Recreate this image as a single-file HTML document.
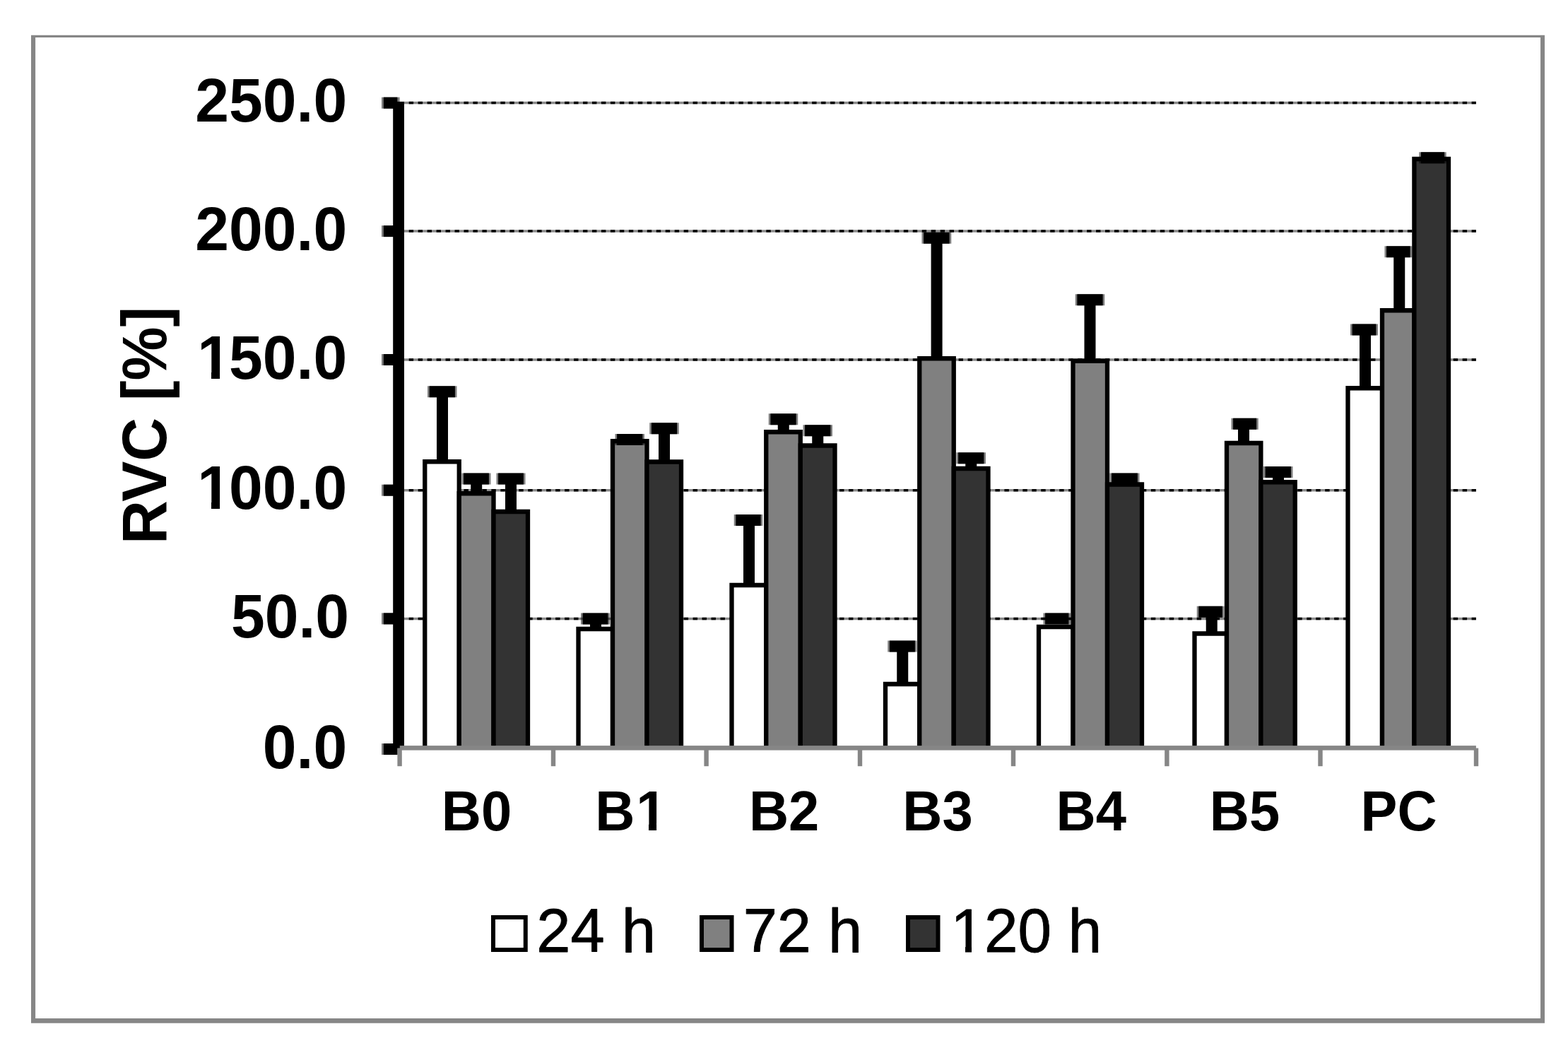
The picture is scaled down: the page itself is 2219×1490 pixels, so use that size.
<!DOCTYPE html>
<html lang="en">
<head>
<meta charset="utf-8">
<title>RVC [%] chart</title>
<style>
html,body{margin:0;padding:0;background:#fff;}
body{width:2219px;height:1490px;overflow:hidden;font-family:"Liberation Sans", Arial, Helvetica, sans-serif;}
svg{display:block;}
text{font-family:"Liberation Sans", Arial, Helvetica, sans-serif;fill:#000;}
.b{font-weight:bold;}
</style>
</head>
<body>
<svg width="2219" height="1490" viewBox="0 0 2219 1490">
<rect x="0" y="0" width="2219" height="1490" fill="#fff"/>

<!-- chart frame -->
<path fill="#868686" fill-rule="evenodd" d="M44 49.8H2186V1447.75H44Z M50.1 53V1440.9H2180.05V53Z"/>
<!-- horizontal gridlines -->
<g stroke="#8a8a8a" stroke-width="3.5" fill="none">
<line x1="572" y1="145.6" x2="2088.9" y2="145.6"/>
<line x1="572" y1="327.1" x2="2088.9" y2="327.1"/>
<line x1="572" y1="509" x2="2088.9" y2="509"/>
<line x1="572" y1="693.7" x2="2088.9" y2="693.7"/>
<line x1="572" y1="875.4" x2="2088.9" y2="875.4"/>
</g>
<g stroke="#000" stroke-width="3.5" stroke-dasharray="6.4 6.565" fill="none">
<line x1="578.7" y1="145.6" x2="2088.9" y2="145.6"/>
<line x1="578.7" y1="327.1" x2="2088.9" y2="327.1"/>
<line x1="578.7" y1="509" x2="2088.9" y2="509"/>
<line x1="578.7" y1="693.7" x2="2088.9" y2="693.7"/>
<line x1="578.7" y1="875.4" x2="2088.9" y2="875.4"/>
</g>
<!-- bars -->
<g stroke="#000" stroke-width="6.3" stroke-linejoin="miter">
<path d="M601.25 1058.4V653.25H649.75V1058.4" fill="#ffffff"/>
<path d="M649.75 1058.4V698.25H698.5V1058.4" fill="#808080"/>
<path d="M698.5 1058.4V724H747V1058.4" fill="#333333"/>
<path d="M818.5 1058.4V890H867V1058.4" fill="#ffffff"/>
<path d="M867 1058.4V624.25H915.5V1058.4" fill="#808080"/>
<path d="M915.5 1058.4V653.5H964V1058.4" fill="#333333"/>
<path d="M1035.5 1058.4V828H1084.25V1058.4" fill="#ffffff"/>
<path d="M1084.25 1058.4V611.25H1132.75V1058.4" fill="#808080"/>
<path d="M1132.75 1058.4V630.5H1181.5V1058.4" fill="#333333"/>
<path d="M1253 1058.4V968H1301.25V1058.4" fill="#ffffff"/>
<path d="M1301.25 1058.4V507.25H1349.75V1058.4" fill="#808080"/>
<path d="M1349.75 1058.4V663H1398.5V1058.4" fill="#333333"/>
<path d="M1470 1058.4V887H1518.5V1058.4" fill="#ffffff"/>
<path d="M1518.5 1058.4V510.75H1567V1058.4" fill="#808080"/>
<path d="M1567 1058.4V685.5H1616V1058.4" fill="#333333"/>
<path d="M1690.5 1058.4V896.5H1736V1058.4" fill="#ffffff"/>
<path d="M1736 1058.4V627H1784.4V1058.4" fill="#808080"/>
<path d="M1784.4 1058.4V682.25H1832.75V1058.4" fill="#333333"/>
<path d="M1907.5 1058.4V549.25H1956V1058.4" fill="#ffffff"/>
<path d="M1956 1058.4V439.25H2001.4V1058.4" fill="#808080"/>
<path d="M2001.4 1058.4V225H2050V1058.4" fill="#333333"/>
</g>
<!-- error bars -->
<g fill="#000" fill-opacity="0.5">
<rect x="605" y="546.25" width="41.50" height="16"/>
<rect x="653.5" y="669.5" width="41.00" height="16"/>
<rect x="702.5" y="669.5" width="41.00" height="16"/>
<rect x="822" y="867.5" width="41.00" height="16"/>
<rect x="870.5" y="614" width="41.50" height="16"/>
<rect x="919.25" y="598.25" width="41.50" height="16"/>
<rect x="1038.75" y="728" width="40.50" height="16"/>
<rect x="1087.75" y="585.25" width="41.50" height="16"/>
<rect x="1136.5" y="601.25" width="41.50" height="16"/>
<rect x="1256.25" y="906.5" width="41.25" height="16"/>
<rect x="1304.5" y="328.75" width="41.75" height="16"/>
<rect x="1353.5" y="640.25" width="41.50" height="16"/>
<rect x="1476.5" y="867.5" width="38.50" height="16"/>
<rect x="1521.75" y="416.25" width="41.50" height="16"/>
<rect x="1570.5" y="669.5" width="42.00" height="16"/>
<rect x="1693.75" y="857.75" width="38.75" height="16"/>
<rect x="1742.5" y="591.75" width="38.25" height="16"/>
<rect x="1788" y="660" width="41.50" height="16"/>
<rect x="1911" y="458.5" width="39.00" height="16"/>
<rect x="1959.5" y="348.25" width="38.75" height="16"/>
<rect x="2008.25" y="215.25" width="38.50" height="16"/>
</g>
<g fill="#000">
<rect x="607.60" y="546.25" width="36.30" height="16"/>
<rect x="618" y="554.25" width="16" height="99.00"/>
<rect x="656.10" y="669.5" width="35.80" height="16"/>
<rect x="666.2" y="677.5" width="16" height="20.75"/>
<rect x="705.10" y="669.5" width="35.80" height="16"/>
<rect x="715" y="677.5" width="16" height="46.50"/>
<rect x="824.60" y="867.5" width="35.80" height="16"/>
<rect x="835" y="875.5" width="16" height="14.50"/>
<rect x="873.10" y="614" width="36.30" height="16"/>
<rect x="921.85" y="598.25" width="36.30" height="16"/>
<rect x="932" y="606.25" width="16" height="47.25"/>
<rect x="1041.35" y="728" width="35.30" height="16"/>
<rect x="1052" y="736" width="16" height="92.00"/>
<rect x="1090.35" y="585.25" width="36.30" height="16"/>
<rect x="1100.75" y="593.25" width="16" height="18.00"/>
<rect x="1139.10" y="601.25" width="36.30" height="16"/>
<rect x="1149.25" y="609.25" width="16" height="21.25"/>
<rect x="1258.85" y="906.5" width="36.05" height="16"/>
<rect x="1269.25" y="914.5" width="16" height="53.50"/>
<rect x="1307.10" y="328.75" width="36.55" height="16"/>
<rect x="1317.6" y="336.75" width="16" height="170.50"/>
<rect x="1356.10" y="640.25" width="36.30" height="16"/>
<rect x="1366.25" y="648.25" width="16" height="14.75"/>
<rect x="1479.10" y="867.5" width="33.30" height="16"/>
<rect x="1524.35" y="416.25" width="36.30" height="16"/>
<rect x="1534.5" y="424.25" width="16" height="86.50"/>
<rect x="1573.10" y="669.5" width="36.80" height="16"/>
<rect x="1696.35" y="857.75" width="33.55" height="16"/>
<rect x="1706.75" y="865.75" width="16" height="30.75"/>
<rect x="1745.10" y="591.75" width="33.05" height="16"/>
<rect x="1752" y="599.75" width="16" height="27.25"/>
<rect x="1790.60" y="660" width="36.30" height="16"/>
<rect x="1801" y="668" width="16" height="14.25"/>
<rect x="1913.60" y="458.5" width="33.80" height="16"/>
<rect x="1924" y="466.5" width="16" height="82.75"/>
<rect x="1962.10" y="348.25" width="33.55" height="16"/>
<rect x="1972.25" y="356.25" width="16" height="83.00"/>
<rect x="2010.85" y="215.25" width="33.30" height="16"/>
</g>
<!-- value axis -->
<g fill="#000" fill-opacity="0.5">
<rect x="540" y="137.6" width="25.6" height="16"/>
<rect x="540" y="319.1" width="25.6" height="16"/>
<rect x="540" y="501" width="25.6" height="16"/>
<rect x="540" y="685.7" width="25.6" height="16"/>
<rect x="540" y="867.4" width="25.6" height="16"/>
<rect x="540" y="1052" width="25.6" height="16"/>
</g>
<g fill="#000">
<rect x="556.2" y="143.8" width="15.8" height="914.8"/>
<rect x="542.8" y="137.6" width="19.6" height="16"/>
<rect x="542.8" y="319.1" width="19.6" height="16"/>
<rect x="542.8" y="501" width="19.6" height="16"/>
<rect x="542.8" y="685.7" width="19.6" height="16"/>
<rect x="542.8" y="867.4" width="19.6" height="16"/>
<rect x="542.8" y="1052" width="19.6" height="16"/>
<rect x="556.2" y="1052" width="9.6" height="6.6"/>
</g>
<!-- category axis -->
<g fill="#868686">
<rect x="565.8" y="1055.1" width="1523.1" height="6.5"/>
<rect x="562.4" y="1058.6" width="6.4" height="25.6"/>
<rect x="779.8" y="1058.6" width="6.4" height="25.6"/>
<rect x="996.4" y="1058.6" width="6.4" height="25.6"/>
<rect x="1213.8" y="1058.6" width="6.4" height="25.6"/>
<rect x="1430.8" y="1058.6" width="6.4" height="25.6"/>
<rect x="1648.2" y="1058.6" width="6.4" height="25.6"/>
<rect x="1865.3" y="1058.6" width="6.4" height="25.6"/>
<rect x="2085.8" y="1058.6" width="6.4" height="25.6"/>
</g>
<!-- value axis labels -->
<text class="b" font-size="87" text-anchor="end" transform="translate(491.20 172.20) scale(0.9870 1)">250.0</text>
<text class="b" font-size="87" text-anchor="end" transform="translate(491.20 353.70) scale(0.9870 1)">200.0</text>
<text class="b" font-size="87" text-anchor="end" dx="3 -3" transform="translate(488.20 535.60) scale(0.9870 1)">150.0</text>
<text class="b" font-size="87" text-anchor="end" dx="3 -3" transform="translate(488.20 720.30) scale(0.9870 1)">100.0</text>
<text class="b" font-size="87" text-anchor="end" transform="translate(494.00 902.00) scale(0.9870 1)">50.0</text>
<text class="b" font-size="87" text-anchor="end" transform="translate(491.20 1086.60) scale(0.9870 1)">0.0</text>
<!-- category labels -->
<text class="b" font-size="79" text-anchor="start" transform="translate(624.70 1174.60) scale(0.9850 1)">B0</text>
<text class="b" font-size="79" text-anchor="start" dx="0 2.0" transform="translate(842.20 1174.60) scale(0.9850 1)">B1</text>
<text class="b" font-size="79" text-anchor="start" transform="translate(1059.90 1174.60) scale(0.9850 1)">B2</text>
<text class="b" font-size="79" text-anchor="start" transform="translate(1277.30 1174.60) scale(0.9850 1)">B3</text>
<text class="b" font-size="79" text-anchor="start" transform="translate(1494.50 1174.60) scale(0.9850 1)">B4</text>
<text class="b" font-size="79" text-anchor="start" transform="translate(1711.80 1174.60) scale(0.9850 1)">B5</text>
<text class="b" font-size="79" text-anchor="start" transform="translate(1925.50 1174.60) scale(0.9850 1)">PC</text>
<!-- value axis title -->
<text class="b" font-size="89" text-anchor="middle" transform="translate(234.60 602.00) rotate(-90) scale(0.9615 1)">RVC [%]</text>
<!-- legend -->
<g stroke="#000" stroke-width="6">
<rect x="698" y="1298" width="45.75" height="46" fill="#ffffff"/>
<rect x="993" y="1298" width="42.5" height="46" fill="#808080"/>
<rect x="1285" y="1298" width="42.5" height="46" fill="#333333"/>
</g>
<g stroke="#000" stroke-width="0.9" stroke-linejoin="round">
<text font-size="87.5" text-anchor="start" transform="translate(759.30 1346.50) scale(0.9900 1)">24 h</text>
<text font-size="87.5" text-anchor="start" transform="translate(1051.70 1346.50) scale(0.9900 1)">72 h</text>
<text font-size="87.5" text-anchor="start" transform="translate(1345.60 1346.50) scale(0.9750 1)">120 h</text>
</g>
<!-- white trims beside the digit one stems -->
<g fill="#fff">
<rect x="283" y="526" width="16.0" height="11"/>
<rect x="311.06" y="526" width="15.94" height="11"/>
<rect x="283" y="710" width="16.0" height="11"/>
<rect x="311.06" y="710" width="15.94" height="11"/>
<rect x="903" y="1165" width="15.0" height="11"/>
<rect x="929.07" y="1165" width="13.93" height="11"/>
<rect x="1350" y="1339" width="16.0" height="10"/>
<rect x="1375.0" y="1339" width="16.0" height="10"/>
</g>
</svg>
</body>
</html>
